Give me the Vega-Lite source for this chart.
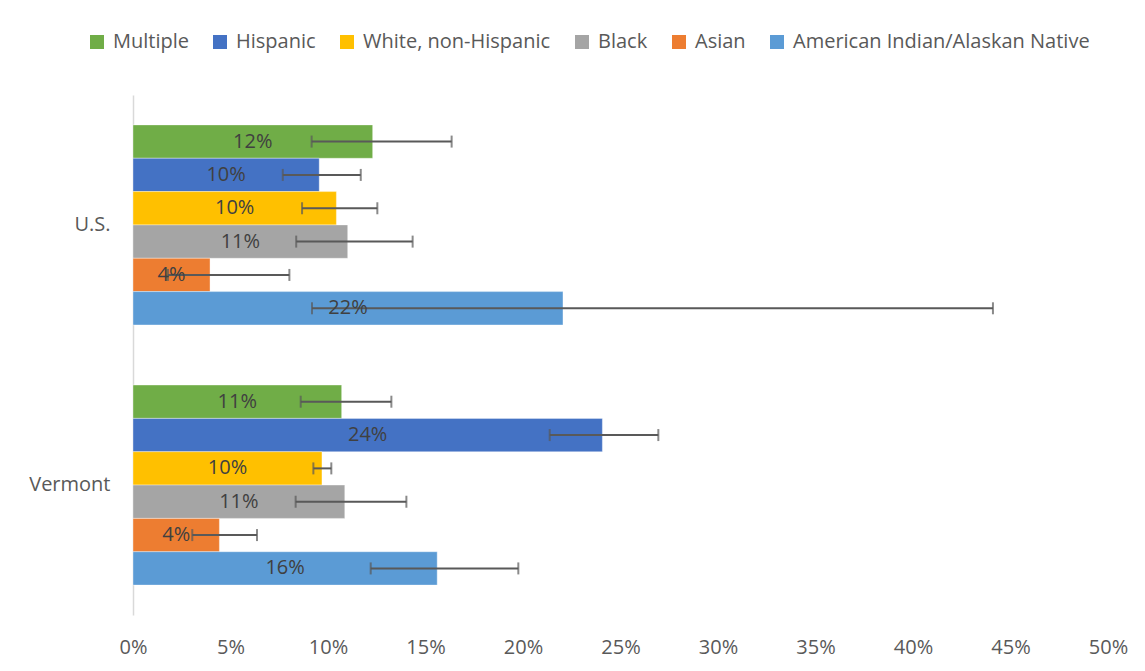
{
  "$schema": "https://vega.github.io/schema/vega-lite/v6.json",
  "width": 975,
  "height": 520,
  "autosize": {"type": "none"},
  "padding": {"left": 133, "top": 95, "right": 37, "bottom": 56},
  "background": "white",
  "config": {"view": {"stroke": null}, "font": "Open Sans"},
  "data": {
    "values": [
      {"location": "U.S.", "race": "Multiple", "value": 0.1229, "lo": 0.0916, "hi": 0.1634},
      {"location": "U.S.", "race": "Hispanic", "value": 0.0955, "lo": 0.0768, "hi": 0.1168},
      {"location": "U.S.", "race": "White, non-Hispanic", "value": 0.1043, "lo": 0.0867, "hi": 0.1253},
      {"location": "U.S.", "race": "Black", "value": 0.1101, "lo": 0.0837, "hi": 0.1434},
      {"location": "U.S.", "race": "Asian", "value": 0.0395, "lo": 0.0179, "hi": 0.0802},
      {"location": "U.S.", "race": "American Indian/Alaskan Native", "value": 0.2205, "lo": 0.0918, "hi": 0.441},
      {"location": "Vermont", "race": "Multiple", "value": 0.107, "lo": 0.086, "hi": 0.1325},
      {"location": "Vermont", "race": "Hispanic", "value": 0.2407, "lo": 0.2137, "hi": 0.2694},
      {"location": "Vermont", "race": "White, non-Hispanic", "value": 0.0969, "lo": 0.0925, "hi": 0.1017},
      {"location": "Vermont", "race": "Black", "value": 0.1086, "lo": 0.0834, "hi": 0.1402},
      {"location": "Vermont", "race": "Asian", "value": 0.0443, "lo": 0.0304, "hi": 0.0636},
      {"location": "Vermont", "race": "American Indian/Alaskan Native", "value": 0.156, "lo": 0.1219, "hi": 0.1976}
    ]
  },
  "encoding": {
    "y": {
      "field": "location",
      "type": "nominal",
      "sort": ["U.S.", "Vermont"],
      "scale": {"paddingInner": 0.231, "paddingOuter": 0.115},
      "axis": {
        "title": null,
        "ticks": false,
        "domainColor": "#D9D9D9",
        "domainWidth": 1.5,
        "labelFontSize": 20,
        "labelColor": "#595959",
        "labelPadding": 23
      }
    },
    "yOffset": {
      "field": "race",
      "type": "nominal",
      "sort": ["Multiple", "Hispanic", "White, non-Hispanic", "Black", "Asian", "American Indian/Alaskan Native"],
      "scale": {"paddingInner": 0, "paddingOuter": 0}
    }
  },
  "resolve": {"scale": {"x": "independent"}},
  "layer": [
    {
      "mark": {"type": "bar", "stroke": "#ffffff", "strokeWidth": 0.6, "strokeOpacity": 0.6},
      "encoding": {
        "x": {
          "field": "value",
          "type": "quantitative",
          "scale": {"domain": [0, 0.5]},
          "axis": {
            "title": null,
            "format": ".0%",
            "values": [0, 0.05, 0.1, 0.15, 0.2, 0.25, 0.3, 0.35, 0.4, 0.45, 0.5],
            "domain": false,
            "ticks": false,
            "grid": false,
            "labelFlush": false,
            "labelFontSize": 20,
            "labelColor": "#595959",
            "labelPadding": 22
          }
        },
        "color": {
          "field": "race",
          "type": "nominal",
          "scale": {
            "domain": ["Multiple", "Hispanic", "White, non-Hispanic", "Black", "Asian", "American Indian/Alaskan Native"],
            "range": ["#70AD47", "#4472C4", "#FFC000", "#A5A5A5", "#ED7D31", "#5B9BD5"]
          },
          "legend": {
            "title": null,
            "orient": "none",
            "legendX": -46,
            "legendY": -63,
            "direction": "horizontal",
            "columns": 6,
            "symbolType": "square",
            "symbolSize": 196,
            "symbolStrokeWidth": 0,
            "labelFontSize": 20,
            "labelColor": "#595959",
            "labelOffset": 6,
            "columnPadding": 21,
            "labelLimit": 500
          }
        }
      }
    },
    {
      "mark": {"type": "rule", "color": "#595959", "strokeWidth": 2},
      "encoding": {
        "x": {"field": "lo", "type": "quantitative", "scale": {"domain": [0, 0.5]}, "axis": null},
        "x2": {"field": "hi"}
      }
    },
    {
      "mark": {"type": "tick", "color": "#595959", "thickness": 2, "size": 12},
      "encoding": {"x": {"field": "lo", "type": "quantitative", "scale": {"domain": [0, 0.5]}, "axis": null}}
    },
    {
      "mark": {"type": "tick", "color": "#595959", "thickness": 2, "size": 12},
      "encoding": {"x": {"field": "hi", "type": "quantitative", "scale": {"domain": [0, 0.5]}, "axis": null}}
    },
    {
      "mark": {"type": "text", "fontSize": 20, "color": "#404040", "align": "center", "baseline": "middle"},
      "encoding": {
        "x": {"field": "value", "type": "quantitative", "scale": {"domain": [0, 1]}, "axis": null},
        "text": {"field": "value", "type": "quantitative", "format": ".0%"}
      }
    }
  ]
}
